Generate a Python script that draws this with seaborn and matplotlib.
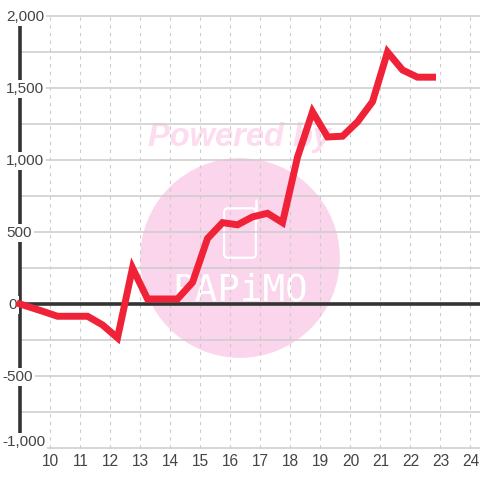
import matplotlib
matplotlib.use('Agg')
import matplotlib.pyplot as plt
from matplotlib.patches import Circle, FancyBboxPatch
import pandas as pd
import seaborn as sns

hours = [9.0, 9.75, 10.25, 10.75, 11.25, 11.75, 12.25, 12.75, 13.25, 13.75, 14.25, 14.75,
         15.25, 15.75, 16.25, 16.75, 17.25, 17.75, 18.25, 18.75, 19.25, 19.75, 20.25,
         20.75, 21.25, 21.75, 22.25, 22.75]
balance = [0, -50, -85, -85, -85, -145, -235, 250, 35, 35, 35, 150,
           455, 565, 550, 605, 630, 565, 1020, 1335, 1160, 1165, 1265,
           1405, 1750, 1625, 1575, 1575]
x_ticks = list(range(10, 25))
y_labels = {2000: '2,000', 1500: '1,500', 1000: '1,000', 500: '500', 0: '0',
            -500: '-500', -1000: '-1,000'}
y_grid = list(range(-1000, 2001, 250))

GRID = '#cccccc'
DARK = '#333333'
TEXT = '#444444'
RED = '#ef2238'
PINK = '#fbd5ec'

sns.set_theme(style='white')
plt.rcParams['font.family'] = ['Liberation Sans', 'DejaVu Sans']

fig = plt.figure(figsize=(4.8, 4.8), dpi=100)
ax = fig.add_axes([0, 0, 1, 1])
ax.set_xlim(8.333, 24.333)
ax.set_ylim(-1222, 2111)
ax.axis('off')

# watermark behind everything
ax.add_patch(Circle((0.5, 0.4625), 0.208, transform=ax.transAxes, color=PINK, lw=0, zorder=1))
ax.text(0.5, 0.714, 'Powered by', transform=ax.transAxes, ha='center', va='center',
        fontsize=23.5, fontweight='bold', fontstyle='italic', color='#fcdcee', zorder=1)
ax.add_patch(FancyBboxPatch((0.467, 0.463), 0.066, 0.103, boxstyle='round,pad=0,rounding_size=0.008',
                            transform=ax.transAxes, fc='none', ec='white', lw=1.6, zorder=1))
ax.plot([0.533, 0.533], [0.54, 0.583], transform=ax.transAxes, color='white', lw=1.8,
        solid_capstyle='round', zorder=1)
ax.text(0.5, 0.395, 'PAPiMO', transform=ax.transAxes, ha='center', va='center',
        fontsize=27, color='white', zorder=1, family='DejaVu Sans Mono')

# grid
ax.hlines(y_grid, 9, 24.333, color=GRID, lw=1.1, zorder=2)
ax.vlines(x_ticks, -1000, 2000, color=GRID, lw=0.8, linestyles=(0, (3, 4)), zorder=2)

# axes
ax.hlines(0, 9, 24.333, color=DARK, lw=2.6, zorder=3)
ax.vlines(9, -1000, 2000, color=DARK, lw=2.6, zorder=3)

# labels
for val, lab in y_labels.items():
    ypos = val + 40 if val == -1000 else val - 8
    xpos = 8.4 if val < 0 else 8.53
    if val == 0:
        xpos = 8.6
    ax.text(xpos, ypos, lab, ha='left', va='center', fontsize=11, color=TEXT, zorder=4,
            bbox=dict(fc='white', ec='none', pad=1.5))
for h in x_ticks:
    ax.text(h + 0.02, -1097, str(h), ha='center', va='center', fontsize=11.2, color=TEXT, zorder=4)

df = pd.DataFrame({'hour': hours, 'balance': balance})
sns.lineplot(data=df, x='hour', y='balance', ax=ax, color=RED, linewidth=5, zorder=5,
             solid_joinstyle='miter', solid_capstyle='projecting', errorbar=None)
ax.set_xlim(8.333, 24.333)
ax.set_ylim(-1222, 2111)

fig.savefig('out.png', dpi=100)
plt.close()
